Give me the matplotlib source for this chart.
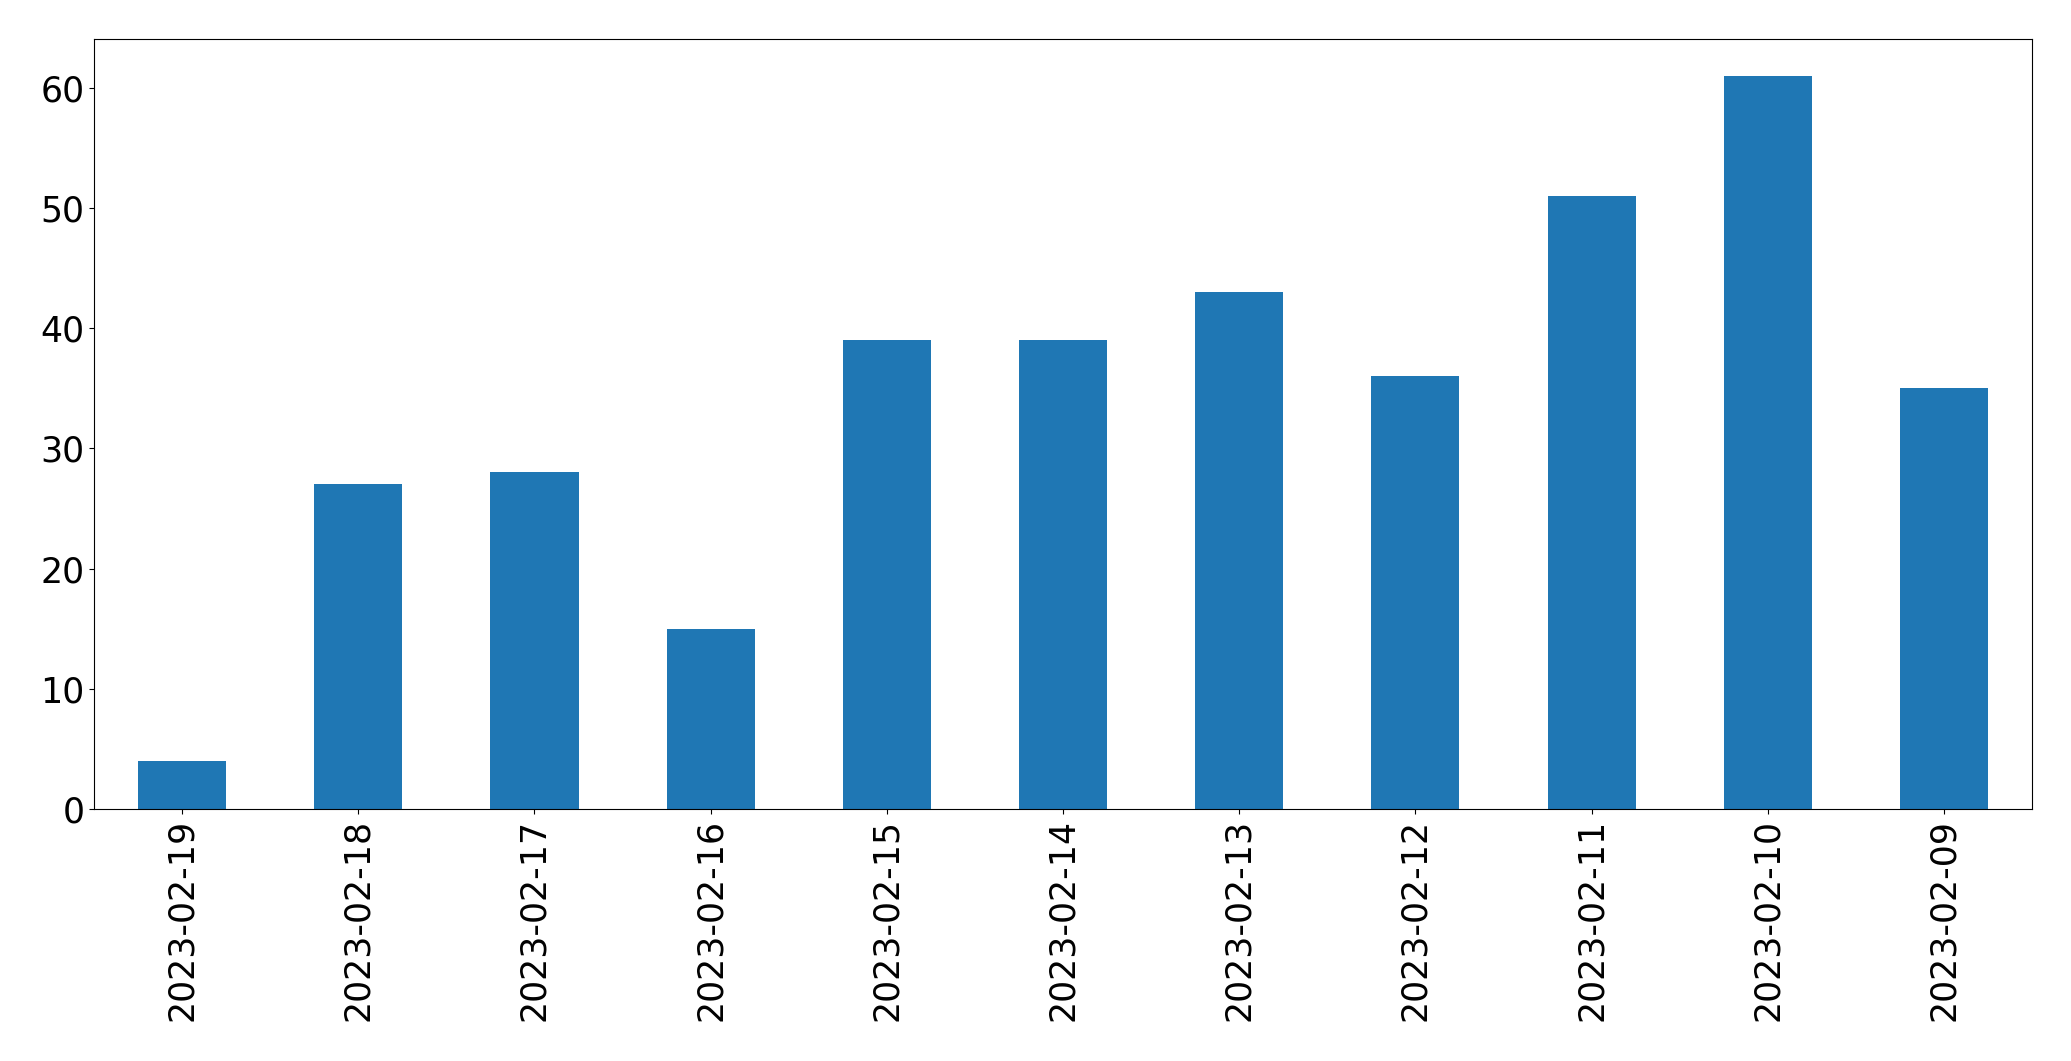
import matplotlib
matplotlib.use("Agg")
import matplotlib.pyplot as plt
import pandas as pd

dates = [
    "2023-02-19",
    "2023-02-18",
    "2023-02-17",
    "2023-02-16",
    "2023-02-15",
    "2023-02-14",
    "2023-02-13",
    "2023-02-12",
    "2023-02-11",
    "2023-02-10",
    "2023-02-09",
]
counts = [4, 27, 28, 15, 39, 39, 43, 36, 51, 61, 35]

s = pd.Series(counts, index=dates)

fig, ax = plt.subplots(figsize=(20.71, 10.61), dpi=100)
s.plot(kind="bar", ax=ax, color="#1f77b4", fontsize=25)
ax.tick_params(axis="x", labelrotation=90)
fig.subplots_adjust(left=0.0454, right=0.9812, top=0.9632, bottom=0.2375)
fig.savefig("out.png", dpi=100)
